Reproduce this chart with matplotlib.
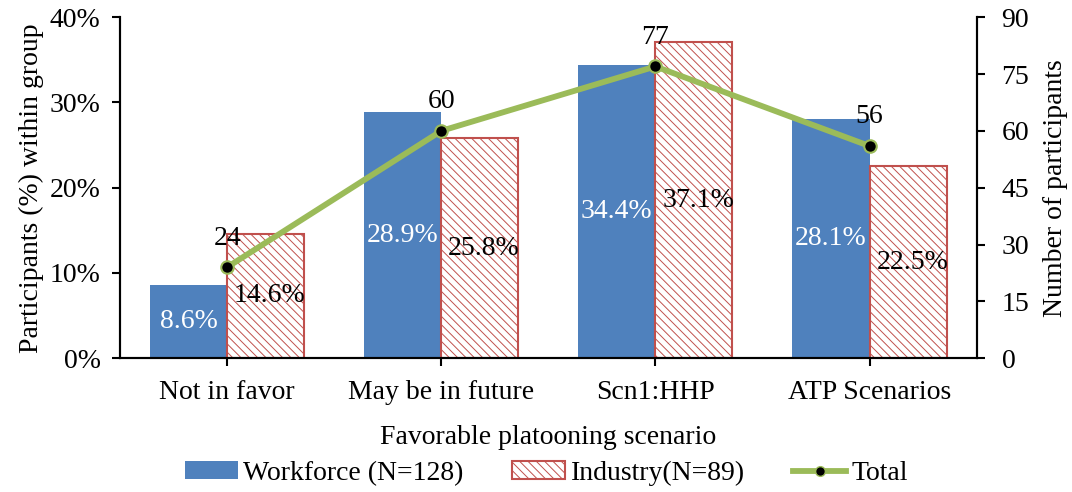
import matplotlib
matplotlib.use("Agg")
from matplotlib import pyplot as plt
from matplotlib.patches import Patch
from matplotlib.lines import Line2D
import numpy as np

plt.rcParams['font.family'] = ['Liberation Serif', 'DejaVu Serif']
plt.rcParams['hatch.color'] = '#C0504D'
plt.rcParams['hatch.linewidth'] = 0.7

categories = ["Not in favor", "May be in future", "Scn1:HHP", "ATP Scenarios"]
workforce = [8.6, 28.9, 34.4, 28.1]
industry = [14.6, 25.8, 37.1, 22.5]
total = [24, 60, 77, 56]

blue = '#4F81BD'
red = '#C0504D'
green = '#9BBB59'
fs = 20

fig = plt.figure(figsize=(10.72, 4.92), dpi=100)
ax = fig.add_axes([0.112, 0.272, 0.799, 0.693])
ax2 = ax.twinx()

x = np.arange(len(categories))
w = 0.36

b1 = ax.bar(x - w / 2, workforce, w, color=blue, zorder=2)
b2 = ax.bar(x + w / 2, industry, w, color='white', edgecolor=red,
            linewidth=1.5, hatch='\\\\\\\\', zorder=2)

for r, v in zip(b1, workforce):
    ax.text(r.get_x() + r.get_width() / 2, v / 2, "{:.1f}%".format(v),
            ha='center', va='center', color='white', fontsize=fs, zorder=5)
for r, v in zip(b2, industry):
    ax.text(r.get_x() + r.get_width() / 2 + 0.02, v / 2, "{:.1f}%".format(v),
            ha='center', va='center', color='black', fontsize=fs, zorder=5)

ax.set_ylim(0, 40)
ax.set_yticks([0, 10, 20, 30, 40])
ax.set_yticklabels(["{}%".format(t) for t in [0, 10, 20, 30, 40]])
ax.set_xlim(-0.5, 3.5)
ax.set_xticks(x)
ax.set_xticklabels(categories)
ax.tick_params(axis='both', labelsize=fs, direction='out', length=6, width=1.5)
ax.tick_params(axis='x', pad=10)
ax.tick_params(axis='y', pad=8)
ax.set_ylabel("Participants (%) within group", fontsize=fs, labelpad=4)
ax.set_xlabel("Favorable platooning scenario", fontsize=fs, labelpad=14)

# total count on the secondary axis
ax2.plot(x, total, color=green, linewidth=4.2, marker='o', markersize=9,
         markerfacecolor='black', markeredgecolor=green, markeredgewidth=1.5,
         zorder=4)
for xi, t in zip(x, total):
    ax2.annotate(str(t), (xi, t), xytext=(0, 12), textcoords='offset points',
                 ha='center', va='bottom', fontsize=fs)
ax2.set_ylim(0, 90)
ax2.set_yticks(range(0, 91, 15))
ax2.tick_params(axis='y', labelsize=fs, direction='out', length=6, width=1.5,
                pad=12)
ax2.set_ylabel("Number of participants", fontsize=fs, labelpad=10)

for a in (ax, ax2):
    a.spines['top'].set_visible(False)
    for s in ('left', 'right', 'bottom'):
        a.spines[s].set_linewidth(1.5)

handles = [
    Patch(facecolor=blue, label="Workforce (N=128)"),
    Patch(facecolor='white', edgecolor=red, hatch='\\\\\\\\', linewidth=1.5,
          label="Industry(N=89)"),
    Line2D([0], [0], color=green, linewidth=4.2, marker='o', markersize=7,
           markerfacecolor='black', markeredgecolor=green, label="Total"),
]
fig.legend(handles=handles, loc='center', bbox_to_anchor=(0.51, 0.038),
           ncol=3, frameon=False, fontsize=fs, handlelength=1.9,
           handleheight=0.6, columnspacing=1.75, handletextpad=0.2)

fig.savefig("out.png", dpi=100)
